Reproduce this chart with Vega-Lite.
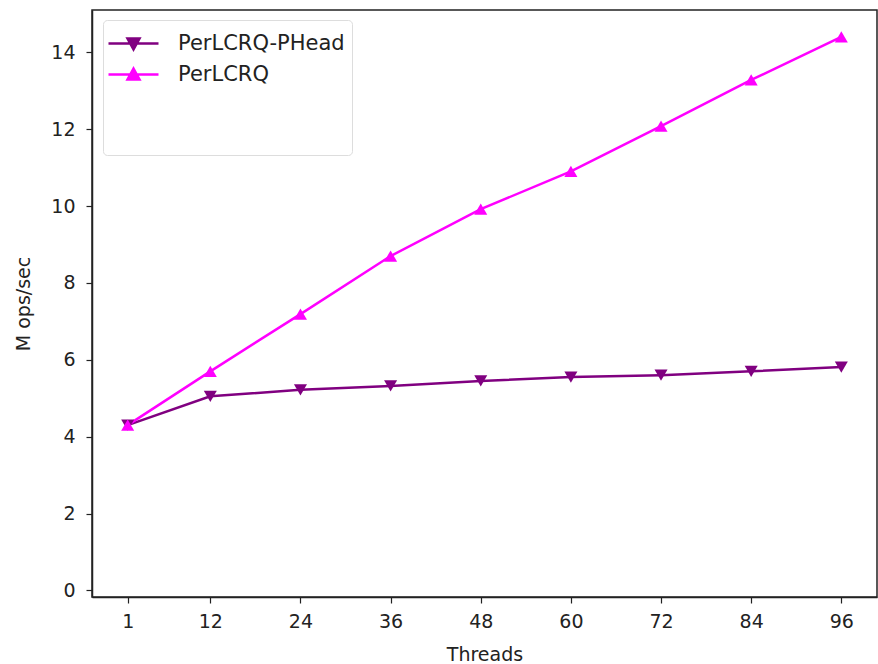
{
  "$schema": "https://vega.github.io/schema/vega-lite/v6.json",
  "width": 785,
  "height": 587,
  "autosize": {"type": "none"},
  "padding": {"left": 92, "top": 10, "right": 1, "bottom": 67},
  "background": "white",
  "config": {
    "font": "DejaVu Sans",
    "view": {"stroke": "#222222", "strokeWidth": 1.5},
    "axis": {
      "grid": false,
      "domainColor": "#222222",
      "domainWidth": 1.5,
      "tickColor": "#222222",
      "tickWidth": 1.2,
      "tickSize": 6,
      "labelFontSize": 19,
      "labelColor": "#222222",
      "titleFontSize": 19,
      "titleFontWeight": "normal",
      "titleColor": "#222222"
    }
  },
  "data": {
    "values": [
      {"series": "PerLCRQ-PHead", "threads": 1, "ops": 4.3},
      {"series": "PerLCRQ-PHead", "threads": 12, "ops": 5.05},
      {"series": "PerLCRQ-PHead", "threads": 24, "ops": 5.22},
      {"series": "PerLCRQ-PHead", "threads": 36, "ops": 5.32},
      {"series": "PerLCRQ-PHead", "threads": 48, "ops": 5.45},
      {"series": "PerLCRQ-PHead", "threads": 60, "ops": 5.55},
      {"series": "PerLCRQ-PHead", "threads": 72, "ops": 5.6},
      {"series": "PerLCRQ-PHead", "threads": 84, "ops": 5.7},
      {"series": "PerLCRQ-PHead", "threads": 96, "ops": 5.81},
      {"series": "PerLCRQ", "threads": 1, "ops": 4.3},
      {"series": "PerLCRQ", "threads": 12, "ops": 5.7},
      {"series": "PerLCRQ", "threads": 24, "ops": 7.19},
      {"series": "PerLCRQ", "threads": 36, "ops": 8.7},
      {"series": "PerLCRQ", "threads": 48, "ops": 9.92},
      {"series": "PerLCRQ", "threads": 60, "ops": 10.9},
      {"series": "PerLCRQ", "threads": 72, "ops": 12.08},
      {"series": "PerLCRQ", "threads": 84, "ops": 13.28},
      {"series": "PerLCRQ", "threads": 96, "ops": 14.4}
    ]
  },
  "encoding": {
    "x": {
      "field": "threads",
      "type": "quantitative",
      "title": "Threads",
      "scale": {"domain": [-3.75, 100.75], "nice": false, "zero": false},
      "axis": {"values": [1, 12, 24, 36, 48, 60, 72, 84, 96], "labelPadding": 9, "titlePadding": 14}
    },
    "y": {
      "field": "ops",
      "type": "quantitative",
      "title": "M ops/sec",
      "scale": {"domain": [-0.17, 15.1], "nice": false, "zero": false},
      "axis": {"values": [0, 2, 4, 6, 8, 10, 12, 14], "labelPadding": 11, "titlePadding": 17}
    },
    "color": {
      "field": "series",
      "type": "nominal",
      "scale": {"domain": ["PerLCRQ-PHead", "PerLCRQ"], "range": ["#800080", "#ff00ff"]},
      "legend": {
        "title": " ",
        "titleOrient": "bottom",
        "titleFontSize": 19,
        "titlePadding": 44,
        "orient": "none",
        "legendX": 11,
        "legendY": 10,
        "padding": 7,
        "strokeColor": "#dddddd",
        "fillColor": "white",
        "cornerRadius": 4,
        "labelFontSize": 21,
        "labelLimit": 400,
        "labelColor": "#222222",
        "labelOffset": 35,
        "rowPadding": 3,
        "symbolSize": 900,
        "symbolStrokeWidth": 2.5,
        "encode": {
          "symbols": {
            "update": {
              "shape": {"signal": "datum.value === 'PerLCRQ' ? 'M-1.2,0H2.133M0.067,0.33L0.867,0.33L0.467,-0.4Z' : 'M-1.2,0H2.133M0.067,-0.33L0.867,-0.33L0.467,0.4Z'"},
              "fill": {"signal": "datum.value === 'PerLCRQ' ? '#ff00ff' : '#800080'"},
              "stroke": {"signal": "datum.value === 'PerLCRQ' ? '#ff00ff' : '#800080'"},
              "fillOpacity": {"value": 1},
              "strokeWidth": {"value": 2.5}
            }
          }
        }
      }
    }
  },
  "layer": [
    {
      "mark": {"type": "line", "strokeWidth": 2.5}
    },
    {
      "transform": [{"filter": "datum.series === 'PerLCRQ-PHead'"}],
      "mark": {"type": "point", "filled": true, "opacity": 1, "size": 170, "shape": "triangle-down"}
    },
    {
      "transform": [{"filter": "datum.series === 'PerLCRQ'"}],
      "mark": {"type": "point", "filled": true, "opacity": 1, "size": 170, "shape": "triangle-up"}
    }
  ]
}
